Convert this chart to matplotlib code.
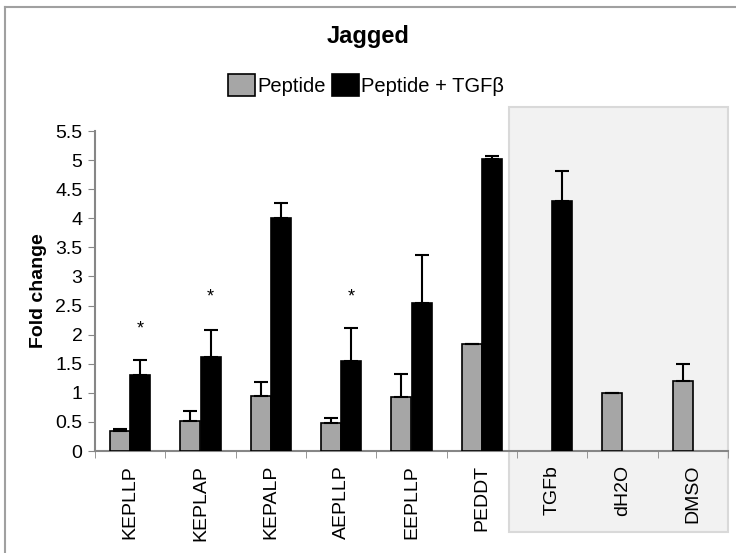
import numpy as np
import matplotlib
matplotlib.use("Agg")
import matplotlib.pyplot as plt
from matplotlib.patches import Rectangle
from matplotlib.lines import Line2D

plt.rcParams['font.family'] = ['Liberation Sans', 'DejaVu Sans']

categories = ["KEPLLP", "KEPLAP", "KEPALP", "AEPLLP", "EEPLLP", "PEDDT", "TGFb", "dH2O", "DMSO"]
peptide = [0.35, 0.52, 0.94, 0.48, 0.93, 1.84, np.nan, 1.0, 1.21]
peptide_err = [0.03, 0.17, 0.24, 0.08, 0.39, 0.0, 0.0, 0.0, 0.28]
tgf = [1.30, 1.62, 4.01, 1.55, 2.55, 5.02, 4.30, np.nan, np.nan]
tgf_err = [0.26, 0.46, 0.26, 0.56, 0.82, 0.05, 0.52, 0.0, 0.0]
star_cats = [0, 1, 3]
star_y = [2.1, 2.65, 2.65]

gray = "#A6A6A6"
w = 0.285

fig = plt.figure(figsize=(7.36, 5.53), dpi=100)
ax = fig.add_axes([95 / 736, 1 - 451 / 553, 633 / 736, 320 / 553])
ax.set_zorder(2)
ax.patch.set_alpha(0)

# shaded control region + outer frame (figure coords)
fig.patches.append(Rectangle((509 / 736, 1 - 532 / 553), 219 / 736, 425 / 553,
                             transform=fig.transFigure, facecolor="#F2F2F2",
                             edgecolor="#D9D9D9", linewidth=1.5, zorder=-1))
fig.lines.append(Line2D([5 / 736, 5 / 736], [0, 1 - 7 / 553], transform=fig.transFigure,
                        color="#A0A0A0", linewidth=1.5))
fig.lines.append(Line2D([5 / 736, 1], [1 - 7 / 553, 1 - 7 / 553], transform=fig.transFigure,
                        color="#A0A0A0", linewidth=1.5))

x = np.arange(len(categories))
pep = np.array(peptide)
tg = np.array(tgf)
m1 = ~np.isnan(pep)
m2 = ~np.isnan(tg)

ekw = dict(elinewidth=1.5, capthick=1.5, capsize=5, ecolor="black")
ax.bar(x[m1] - w / 2, pep[m1], w, color=gray, edgecolor="black", linewidth=1.2,
       yerr=[np.zeros(m1.sum()), np.array(peptide_err)[m1]], error_kw=ekw, label="Peptide", zorder=3)
ax.bar(x[m2] + w / 2, tg[m2], w, color="black", edgecolor="black", linewidth=1.2,
       yerr=[np.zeros(m2.sum()), np.array(tgf_err)[m2]], error_kw=ekw, label="Peptide + TGFβ", zorder=3)

for c, yv in zip(star_cats, star_y):
    ax.text(c + w / 2, yv, "*", ha="center", va="center", fontsize=13)

ax.set_xlim(-0.5, len(categories) - 0.5)
ax.set_ylim(0, 5.5)
yt = np.arange(0, 5.51, 0.5)
ax.set_yticks(yt)
ax.set_yticklabels(["%g" % v for v in yt], fontsize=14)
ax.set_xticks(x)
ax.set_xticklabels(categories, rotation=90, fontsize=14)
ax.set_xticks(np.arange(-0.5, len(categories)), minor=True)
ax.tick_params(axis="x", which="major", length=0, pad=10)
ax.tick_params(axis="x", which="minor", length=5, color="#868686", direction="out")
ax.tick_params(axis="y", length=5, color="#868686", pad=4)

for s in ["top", "right"]:
    ax.spines[s].set_visible(False)
for s in ["left", "bottom"]:
    ax.spines[s].set_color("#868686")
    ax.spines[s].set_linewidth(1.5)

ax.set_ylabel("Fold change", fontsize=14, fontweight="bold", labelpad=6)

fig.text(0.5, 1 - 37 / 553, "Jagged", ha="center", va="center", fontsize=17, fontweight="bold")
fig.legend(loc="center", bbox_to_anchor=(366 / 736, 1 - 85 / 553), ncol=2, frameon=False,
           fontsize=14.5, handlelength=1.35, handleheight=1.3, handletextpad=0.12,
           columnspacing=0.3, borderpad=0)

fig.savefig("out.png", dpi=100)
